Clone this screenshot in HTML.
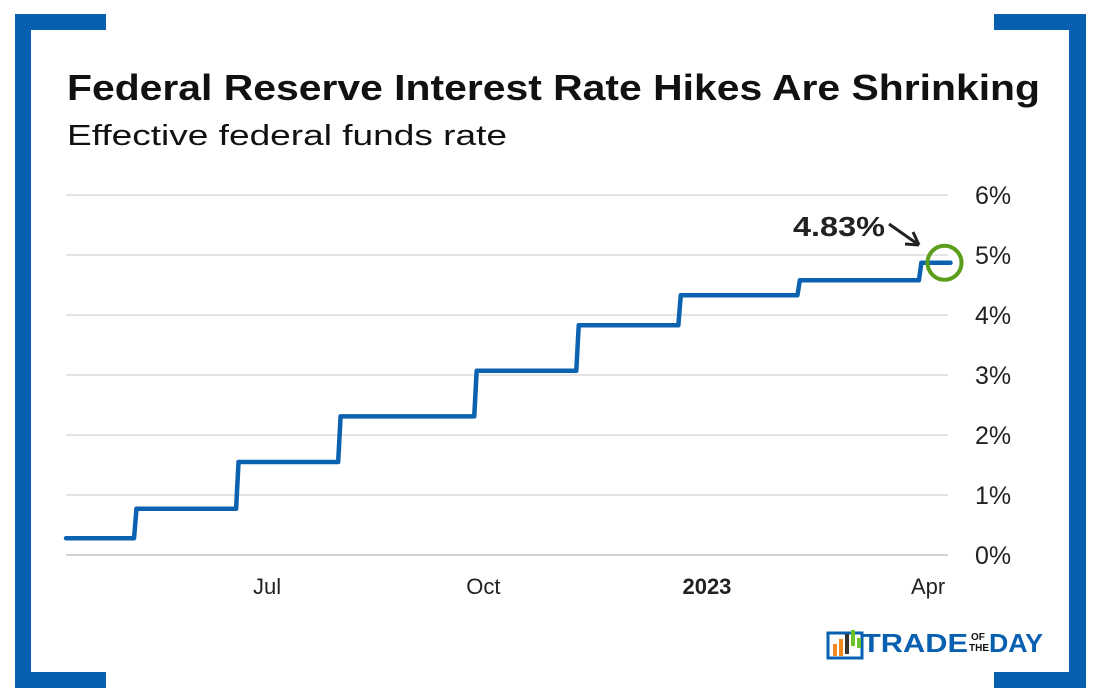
<!DOCTYPE html>
<html><head><meta charset="utf-8"><style>
body{margin:0;background:#fff;}
svg{display:block;font-family:"Liberation Sans",sans-serif;}
</style></head><body>
<svg width="1100" height="700" viewBox="0 0 1100 700">
<g fill="#0a60b0">
<rect x="15" y="14" width="16" height="674"/><rect x="15" y="14" width="91" height="16"/>
<rect x="15" y="672" width="91" height="16"/>
<rect x="1069" y="14" width="17" height="674"/><rect x="994" y="14" width="92" height="16"/>
<rect x="994" y="672" width="92" height="16"/>
</g>
<text x="67" y="100" font-size="36" font-weight="bold" fill="#111" textLength="973" lengthAdjust="spacingAndGlyphs">Federal Reserve Interest Rate Hikes Are Shrinking</text>
<text x="67" y="145" font-size="29" fill="#111" textLength="440" lengthAdjust="spacingAndGlyphs">Effective federal funds rate</text>
<g id="grid"></g><g id="yt"></g><g id="xt"></g>
<path id="line" fill="none" stroke="#0b62b0" stroke-width="4.5" stroke-linejoin="round" stroke-linecap="round"/>
<circle id="hl" r="17" fill="none" stroke="#5a9e1a" stroke-width="4"/>
<text x="793" y="236" font-size="28" font-weight="bold" fill="#222" textLength="92" lengthAdjust="spacingAndGlyphs">4.83%</text>
<path d="M889,224 L919,245 M919,245 L905,244 M919,245 L913,232" stroke="#222" stroke-width="3" fill="none"/>
<g>
<rect x="828" y="633" width="34" height="25" fill="none" stroke="#0a60b0" stroke-width="3"/>
<rect x="833" y="644" width="4" height="12" fill="#f08a1c"/><rect x="839" y="639" width="4" height="17" fill="#f08a1c"/>
<rect x="845" y="634" width="4" height="20" fill="#333"/><rect x="851" y="630" width="4" height="16" fill="#6cc22a"/>
<rect x="857" y="638" width="4" height="10" fill="#6cc22a"/>
<text x="862" y="652" font-size="26" font-weight="bold" fill="#0a60b0" textLength="106" lengthAdjust="spacingAndGlyphs">TRADE</text>
<text x="971" y="640" font-size="10" font-weight="bold" fill="#111">OF</text>
<text x="969" y="651" font-size="10" font-weight="bold" fill="#111">THE</text>
<text x="989" y="652" font-size="26" font-weight="bold" fill="#0a60b0" textLength="54" lengthAdjust="spacingAndGlyphs">DAY</text>
</g>
</svg>
<script>
// days since 2022-04-08
const changeDays=[0,29,71,113,169,211,253,302,352];
const rates=[0.28,0.77,1.55,2.31,3.07,3.83,4.33,4.58,4.87];
const endDay=364;
const yTicks=[0,1,2,3,4,5,6];
const yLabels=["0%","1%","2%","3%","4%","5%","6%"];
const xTickDays=[84,173,265,356];
const xLabels=["Jul","Oct","2023","Apr"];
const X=d=>66+d*2.43, Y=v=>555-v*60;
const ns="http://www.w3.org/2000/svg";
const grid=document.getElementById('grid'),yt=document.getElementById('yt'),xt=document.getElementById('xt');
yTicks.forEach((t,i)=>{
 const l=document.createElementNS(ns,'line');
 l.setAttribute('x1',66);l.setAttribute('x2',948);l.setAttribute('y1',Y(t));l.setAttribute('y2',Y(t));
 l.setAttribute('stroke',i==0?'#aaa':'#c8c8c8');l.setAttribute('stroke-width',1);
 
 
 grid.appendChild(l);
 const tx=document.createElementNS(ns,'text');
 tx.setAttribute('x',975);tx.setAttribute('y',Y(t)+9);tx.setAttribute('font-size',25);tx.setAttribute('fill','#222');
 tx.textContent=yLabels[i];
 
 
 yt.appendChild(tx);
});
xTickDays.forEach((d,i)=>{
 const tx=document.createElementNS(ns,'text');
 tx.setAttribute('x',X(d)-3);tx.setAttribute('y',594);tx.setAttribute('font-size',22);tx.setAttribute('fill','#222');
 tx.setAttribute('text-anchor','middle');
 if(xLabels[i]==='2023')tx.setAttribute('font-weight','bold');
 tx.textContent=xLabels[i];
 
 
 xt.appendChild(tx);
});
let p='M'+X(changeDays[0])+','+Y(rates[0]);
for(let i=1;i<rates.length;i++){
 p+=' L'+X(changeDays[i]-1)+','+Y(rates[i-1])+' L'+X(changeDays[i])+','+Y(rates[i]);
}
p+=' L'+X(endDay)+','+Y(rates[rates.length-1]);
document.getElementById('line').setAttribute('d',p);
const hl=document.getElementById('hl');
hl.setAttribute('cx',X(endDay)-6);hl.setAttribute('cy',Y(rates[rates.length-1]));
</script>
</body></html>
